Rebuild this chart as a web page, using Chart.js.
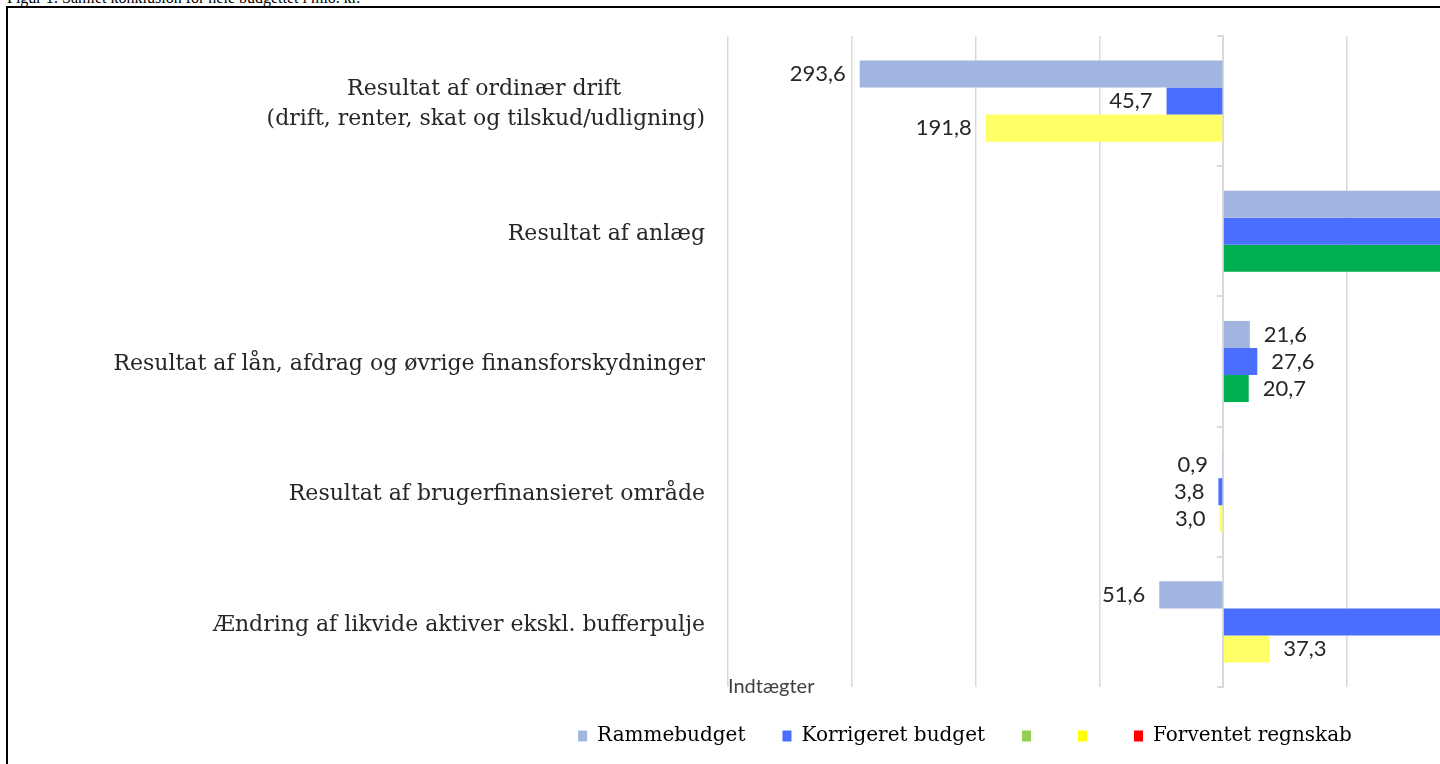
<!DOCTYPE html>
<html>
<head>
<meta charset="utf-8">
<script src="https://cdn.jsdelivr.net/npm/chart.js@4.4.1/dist/chart.umd.min.js"></script>
<style>
  html, body { margin: 0; padding: 0; background: #fff; overflow: hidden; width: 1440px; height: 764px; }
  .caption { position: absolute; left: 7px; top: -10px; font: 16px/16px "Liberation Serif", serif; color: #000; white-space: nowrap; }
  .frame { position: absolute; left: 6px; top: 6px; width: 2000px; height: 1000px; border-left: 2px solid #000; border-top: 2px solid #000; }
  .chart-wrap { position: absolute; left: 8px; top: 8px; width: 1914px; height: 758px; }
</style>
</head>
<body>
<div class="caption">Figur 1: Samlet konklusion for hele budgettet i mio. kr.</div>
<div class="frame"></div>
<div class="chart-wrap"><canvas id="chart"></canvas></div>
<script>
// ── Data (mio. kr.) – negative = indtægter ──
const categories = [
  ["Resultat af ordinær drift", "(drift, renter, skat og tilskud/udligning)"],
  "Resultat af anlæg",
  "Resultat af lån, afdrag og øvrige finansforskydninger",
  "Resultat af brugerfinansieret område",
  "Ændring af likvide aktiver ekskl. bufferpulje"
];
const rammebudget   = [-293.6, 310.0, 21.6, -0.9, -51.6];
const korrigeret    = [-45.7, 345.0, 27.6, -3.8, 255.0];
const forventet     = [-191.8, 320.0, 20.7, -3.0, 37.3];
const legendNames   = ["Rammebudget", "Korrigeret budget", "", "", "Forventet regnskab"];
const xTicks        = [-400, 500, 100]; // min, max, step

const LABEL_FONT = '22px "DejaVu Serif"';
const GRID = "#d9d9d9";
const TEXT = "#262626";

// centre the lines of a multi-line category label against each other
const measure = document.createElement("canvas").getContext("2d");
measure.font = LABEL_FONT;
function centerLines(lines) {
  if (!Array.isArray(lines)) return lines;
  const w = Math.max(...lines.map(l => measure.measureText(l).width));
  const sp = measure.measureText("\u00a0").width;
  return lines.map(l => l + "\u00a0".repeat(Math.round((w - measure.measureText(l).width) / 2 / sp)));
}

const legendColors = ["#a2b4e0", "#4a6eff", "#92d050", "#ffff00", "#ff0000"];
const thirdColors  = ["#ffff66", "#00b050", "#00b050", "#ffff66", "#ffff66"];

const valueLabels = {
  id: "valueLabels",
  afterDatasetsDraw(chart) {
    const ctx = chart.ctx;
    ctx.save();
    ctx.font = '22px Lato';
    ctx.fillStyle = TEXT;
    ctx.textBaseline = "middle";
    chart.data.datasets.forEach((ds, i) => {
      chart.getDatasetMeta(i).data.forEach((bar, j) => {
        const v = ds.data[j];
        const txt = Math.abs(v).toFixed(1).replace(".", ",");
        if (v < 0) { ctx.textAlign = "right"; ctx.fillText(txt, bar.x - 14, bar.y); }
        else { ctx.textAlign = "left"; ctx.fillText(txt, bar.x + 14, bar.y); }
      });
    });
    ctx.restore();
  }
};

new Chart(document.getElementById("chart"), {
  type: "bar",
  data: {
    labels: categories.map(centerLines),
    datasets: [
      { label: "Rammebudget", data: rammebudget, backgroundColor: legendColors[0] },
      { label: "Korrigeret budget", data: korrigeret, backgroundColor: legendColors[1] },
      { label: "Forventet regnskab", data: forventet, backgroundColor: thirdColors }
    ]
  },
  options: {
    indexAxis: "y",
    responsive: true,
    maintainAspectRatio: false,
    animation: false,
    categoryPercentage: 0.623,
    barPercentage: 1,
    layout: { padding: { top: 28, right: 80, bottom: 10, left: 80 } },
    plugins: {
      tooltip: { enabled: false },
      legend: {
        position: "bottom",
        onClick: null,
        labels: {
          font: { family: "DejaVu Serif", size: 20 },
          color: TEXT,
          boxWidth: 9,
          boxHeight: 11,
          padding: 37,
          generateLabels: () => legendNames.map((t, i) => ({
            text: t, fillStyle: legendColors[i], strokeStyle: legendColors[i], lineWidth: 0, hidden: false, datasetIndex: i
          }))
        }
      }
    },
    scales: {
      x: {
        min: xTicks[0], max: xTicks[1],
        ticks: { display: false, stepSize: xTicks[2] },
        grid: { color: GRID, lineWidth: 1.5, drawTicks: false },
        border: { display: false },
        title: {
          display: true, text: "Indtægter", align: "start", color: "#404040",
          font: { family: "Lato", size: 20 }, padding: { top: -12, bottom: -10 }
        }
      },
      y: {
        position: "left",
        grid: { display: false },
        border: { display: false },
        ticks: { color: TEXT, font: { family: "DejaVu Serif", size: 22, lineHeight: 1.36 }, padding: 15, labelOffset: 3 },
        afterFit: s => { s.width = 640; s.paddingTop = 0; s.paddingBottom = 0; }
      },
      y2: {
        type: "category",
        position: { x: 0 },
        offset: true,
        grid: { offset: true, drawOnChartArea: false, color: GRID, lineWidth: 2, tickLength: 5 },
        border: { color: GRID, width: 2 },
        ticks: { display: false }
      }
    }
  },
  plugins: [valueLabels]
});
</script>
</body>
</html>
